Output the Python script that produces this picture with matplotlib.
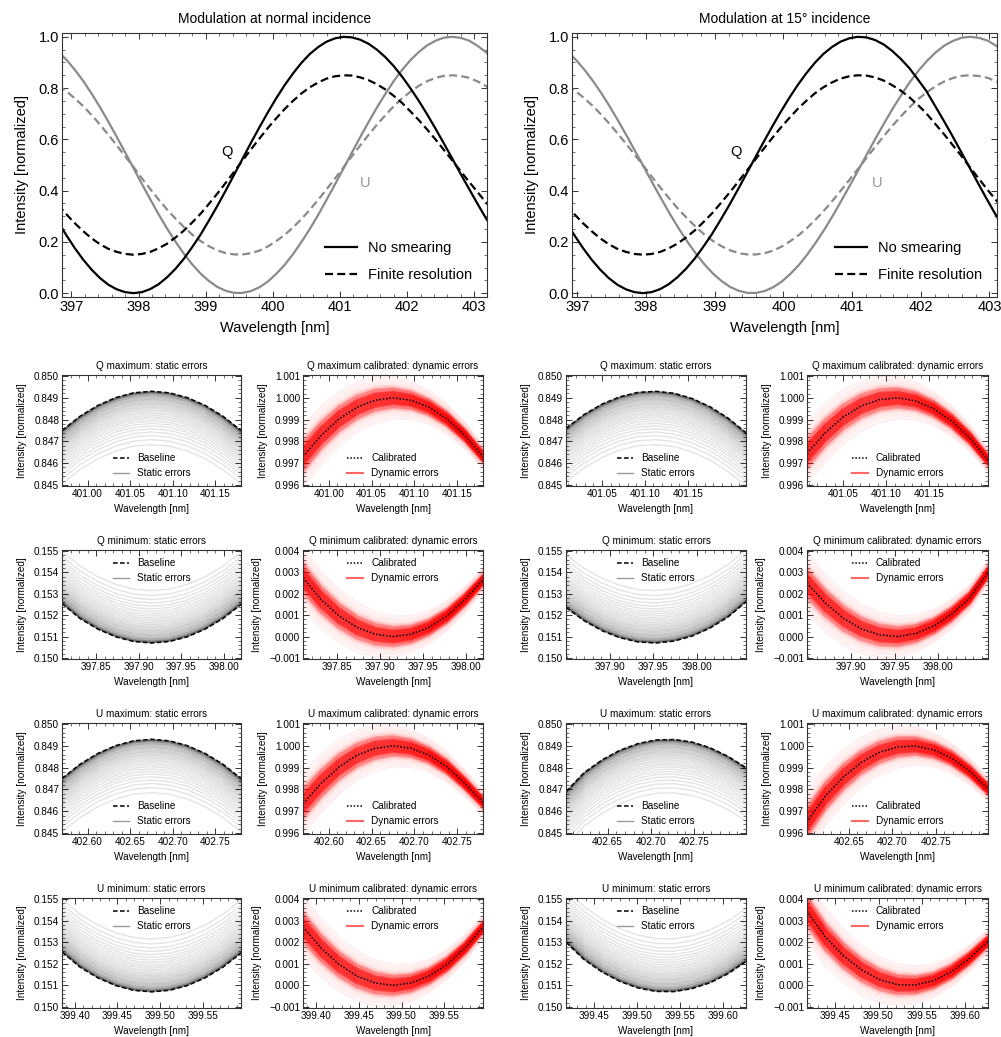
import numpy as np
import matplotlib
matplotlib.use("Agg")
import matplotlib.pyplot as plt
from matplotlib.lines import Line2D
from matplotlib.ticker import MultipleLocator, FixedLocator, FuncFormatter

plt.rcParams['font.family'] = ['Liberation Sans', 'DejaVu Sans']

W, H = 1001, 1037

# ---------------------------------------------------------------
# Full modulation curves, sampled every 0.125 nm
# ---------------------------------------------------------------
wl_normal = np.round(np.arange(396.80, 403.31, 0.125), 3)
wl15_q = np.round(np.arange(396.83, 403.34, 0.125), 3)
wl15_u = np.round(np.arange(396.85, 403.36, 0.125), 3)

q_ideal = [0.279, 0.226, 0.176, 0.131, 0.092, 0.059, 0.033, 0.015, 0.004, 0.000, 0.004,
           0.016, 0.035, 0.062, 0.095, 0.134, 0.180, 0.229, 0.284, 0.341, 0.401, 0.463,
           0.525, 0.587, 0.647, 0.705, 0.760, 0.811, 0.857, 0.898, 0.933, 0.960, 0.981,
           0.994, 1.000, 0.998, 0.989, 0.973, 0.950, 0.921, 0.886, 0.845, 0.799, 0.750,
           0.697, 0.641, 0.583, 0.524, 0.464, 0.406, 0.348, 0.292, 0.240]
q_smear = [0.345, 0.308, 0.273, 0.242, 0.214, 0.191, 0.173, 0.161, 0.153, 0.150, 0.153,
           0.161, 0.175, 0.193, 0.217, 0.244, 0.276, 0.310, 0.349, 0.389, 0.431, 0.474,
           0.518, 0.561, 0.603, 0.644, 0.682, 0.718, 0.750, 0.779, 0.803, 0.822, 0.837,
           0.846, 0.850, 0.849, 0.842, 0.831, 0.815, 0.795, 0.770, 0.742, 0.709, 0.675,
           0.638, 0.599, 0.558, 0.517, 0.475, 0.434, 0.394, 0.354, 0.318]
u_ideal = [0.943, 0.911, 0.872, 0.828, 0.779, 0.726, 0.669, 0.610, 0.549, 0.488, 0.426,
           0.366, 0.307, 0.252, 0.201, 0.154, 0.112, 0.076, 0.047, 0.024, 0.009, 0.001,
           0.001, 0.008, 0.023, 0.045, 0.075, 0.110, 0.152, 0.199, 0.250, 0.305, 0.364,
           0.424, 0.485, 0.547, 0.608, 0.667, 0.724, 0.777, 0.827, 0.871, 0.909, 0.941,
           0.967, 0.985, 0.997, 1.000, 0.996, 0.985, 0.965, 0.940, 0.906]
u_smear = [0.810, 0.788, 0.760, 0.730, 0.695, 0.658, 0.618, 0.577, 0.534, 0.492, 0.448,
           0.406, 0.365, 0.326, 0.291, 0.258, 0.228, 0.203, 0.183, 0.167, 0.156, 0.151,
           0.151, 0.156, 0.166, 0.182, 0.203, 0.227, 0.256, 0.289, 0.325, 0.364, 0.405,
           0.447, 0.490, 0.533, 0.576, 0.617, 0.657, 0.694, 0.729, 0.760, 0.786, 0.809,
           0.827, 0.840, 0.848, 0.850, 0.847, 0.840, 0.826, 0.808, 0.784]

# Q at 15 deg falls off faster past its maximum
q15_ideal = [0.279, 0.226, 0.176, 0.131, 0.092, 0.059, 0.033, 0.015, 0.004, 0.000, 0.004,
             0.016, 0.035, 0.062, 0.095, 0.134, 0.180, 0.229, 0.284, 0.341, 0.401, 0.463,
             0.525, 0.587, 0.647, 0.705, 0.760, 0.811, 0.857, 0.898, 0.933, 0.960, 0.981,
             0.994, 1.000, 0.998, 0.988, 0.971, 0.946, 0.915, 0.879, 0.835, 0.789, 0.732,
             0.675, 0.616, 0.555, 0.493, 0.431, 0.370, 0.311, 0.255, 0.203]
q15_smear = [0.345, 0.308, 0.273, 0.242, 0.214, 0.191, 0.173, 0.161, 0.153, 0.150, 0.153,
             0.161, 0.175, 0.193, 0.217, 0.244, 0.276, 0.310, 0.349, 0.389, 0.431, 0.474,
             0.518, 0.561, 0.603, 0.644, 0.682, 0.718, 0.750, 0.779, 0.803, 0.822, 0.837,
             0.846, 0.850, 0.849, 0.842, 0.830, 0.812, 0.791, 0.765, 0.735, 0.702, 0.662,
             0.623, 0.581, 0.539, 0.495, 0.452, 0.409, 0.368, 0.329, 0.292]

# ---------------------------------------------------------------
# Zoomed extrema, normal incidence
# ---------------------------------------------------------------
qmax_wl_0 = [400.970, 400.991, 401.012, 401.033, 401.054, 401.075, 401.096, 401.117, 401.138, 401.159, 401.180]
qmax_base_0 = [0.84750, 0.84815, 0.84865, 0.84901, 0.84923, 0.84930, 0.84923, 0.84901, 0.84865, 0.84815, 0.84750]
qmax_cal_0 = [0.99730, 0.99827, 0.99903, 0.99957, 0.99989, 1.00000, 0.99989, 0.99957, 0.99903, 0.99827, 0.99730]
qmax_ticks_0 = [401.00, 401.05, 401.10, 401.15]

qmin_wl_0 = [397.810, 397.831, 397.852, 397.873, 397.894, 397.915, 397.936, 397.957, 397.978, 397.999, 398.020]
qmin_base_0 = [0.15255, 0.15185, 0.15135, 0.15099, 0.15077, 0.15070, 0.15077, 0.15099, 0.15135, 0.15185, 0.15250]
qmin_cal_0 = [0.00275, 0.00173, 0.00097, 0.00043, 0.00011, 0.00000, 0.00011, 0.00043, 0.00097, 0.00173, 0.00265]
qmin_ticks_0 = [397.85, 397.90, 397.95, 398.00]

umax_wl_0 = [402.570, 402.591, 402.612, 402.633, 402.654, 402.675, 402.696, 402.717, 402.738, 402.759, 402.780]
umax_base_0 = [0.84750, 0.84815, 0.84865, 0.84901, 0.84923, 0.84930, 0.84923, 0.84901, 0.84865, 0.84815, 0.84750]
umax_cal_0 = [0.99735, 0.99827, 0.99903, 0.99957, 0.99989, 1.00000, 0.99989, 0.99957, 0.99903, 0.99827, 0.99740]
umax_ticks_0 = [402.60, 402.65, 402.70, 402.75]

umin_wl_0 = [399.385, 399.406, 399.427, 399.448, 399.469, 399.490, 399.511, 399.532, 399.553, 399.574, 399.595]
umin_base_0 = [0.15255, 0.15185, 0.15135, 0.15099, 0.15077, 0.15070, 0.15077, 0.15099, 0.15135, 0.15185, 0.15250]
umin_cal_0 = [0.00270, 0.00173, 0.00097, 0.00043, 0.00011, 0.00000, 0.00011, 0.00043, 0.00097, 0.00173, 0.00270]
umin_ticks_0 = [399.40, 399.45, 399.50, 399.55]

# ---------------------------------------------------------------
# Zoomed extrema, 15 deg incidence
# ---------------------------------------------------------------
qmax_wl_15 = [401.008, 401.029, 401.050, 401.071, 401.092, 401.113, 401.134, 401.155, 401.176, 401.197, 401.218]
qmax_base_15 = [0.84760, 0.84823, 0.84871, 0.84905, 0.84925, 0.84930, 0.84921, 0.84897, 0.84859, 0.84807, 0.84740]
qmax_cal_15 = [0.99745, 0.99839, 0.99912, 0.99963, 0.99992, 1.00000, 0.99986, 0.99950, 0.99893, 0.99815, 0.99714]
qmax_ticks_15 = [401.05, 401.10, 401.15]

qmin_wl_15 = [397.849, 397.870, 397.891, 397.911, 397.932, 397.953, 397.974, 397.995, 398.015, 398.036, 398.057]
qmin_base_15 = [0.15236, 0.15174, 0.15127, 0.15095, 0.15075, 0.15070, 0.15079, 0.15103, 0.15139, 0.15191, 0.15262]
qmin_cal_15 = [0.00250, 0.00157, 0.00085, 0.00037, 0.00008, 0.00000, 0.00014, 0.00050, 0.00104, 0.00181, 0.00300]
qmin_ticks_15 = [397.90, 397.95, 398.00]

umax_wl_15 = [402.602, 402.623, 402.644, 402.664, 402.685, 402.706, 402.727, 402.748, 402.768, 402.789, 402.810]
umax_base_15 = [0.84690, 0.84777, 0.84836, 0.84879, 0.84910, 0.84927, 0.84929, 0.84917, 0.84892, 0.84852, 0.84800]
umax_cal_15 = [0.99650, 0.99769, 0.99858, 0.99923, 0.99970, 0.99995, 0.99999, 0.99981, 0.99944, 0.99883, 0.99802]
umax_ticks_15 = [402.65, 402.70, 402.75]

umin_wl_15 = [399.417, 399.438, 399.459, 399.480, 399.501, 399.522, 399.543, 399.564, 399.585, 399.606, 399.627]
umin_base_15 = [0.15300, 0.15220, 0.15162, 0.15118, 0.15088, 0.15072, 0.15071, 0.15085, 0.15112, 0.15154, 0.15211]
umin_cal_15 = [0.00345, 0.00226, 0.00138, 0.00072, 0.00027, 0.00003, 0.00002, 0.00022, 0.00064, 0.00127, 0.00205]
umin_ticks_15 = [399.45, 399.50, 399.55, 399.60]

# error ensembles [1e-3 normalized units]
static_offsets = [0.0, 0.01, 0.015, 0.02, 0.03, 0.04, 0.05, 0.06, 0.07, 0.08, 0.09, 0.10,
                  0.12, 0.14, 0.16, 0.18, 0.20, 0.22, 0.25, 0.28, 0.31, 0.34, 0.37, 0.40,
                  0.44, 0.48, 0.52, 0.56, 0.60, 0.65, 0.70, 0.75, 0.81, 0.87, 0.94, 1.01,
                  1.09, 1.17, 1.26, 1.36, 1.47, 1.59, 1.72, 1.87, 2.03, 2.22, 2.45]
dynamic_offsets = [-0.95, -0.82, -0.72, -0.64, -0.57, -0.51, -0.46, -0.42, -0.38, -0.34,
                   -0.30, -0.27, -0.24, -0.21, -0.18, -0.15, -0.12, -0.09, -0.06, -0.03,
                   0.00, 0.03, 0.06, 0.09, 0.12, 0.15, 0.18, 0.21, 0.24, 0.27, 0.30, 0.34,
                   0.38, 0.42, 0.46, 0.51, 0.57, 0.64, 0.72, 0.82, 0.95]
# spread of the dynamic errors across each zoom window (left -> right)
dynamic_taper = [1.5, 1.4, 1.3, 1.2, 1.1, 1.0, 0.9, 0.8, 0.72, 0.63, 0.55]

GREY = '#8a8a8a'
FRAME = '#333333'


def px_axes(fig, x0, y0, x1, y1):
    return fig.add_axes([x0 / W, 1 - y1 / H, (x1 - x0) / W, (y1 - y0) / H])


def style_axes(ax, size):
    for s in ax.spines.values():
        s.set_color(FRAME)
        s.set_linewidth(0.8)
    ax.tick_params(which='both', direction='in', top=True, right=True,
                   color=FRAME, labelsize=size, pad=2)
    ax.tick_params(which='major', length=4, width=0.7)
    ax.tick_params(which='minor', length=2, width=0.5)


def minus(fmt):
    return FuncFormatter(lambda v, p: (fmt % v).replace('-', '\u2212'))


def red_alpha(off):
    # dense core, fading outer realisations
    off = abs(off)
    if off <= 0.30:
        return 0.45
    if off <= 0.46:
        return 0.28
    if off <= 0.6:
        return 0.14
    return 0.07


fig = plt.figure(figsize=(W / 100, H / 100), dpi=100)

# ---------------------------------------------------------------
# Overview panels
# ---------------------------------------------------------------
overview = [
    ("Modulation at normal incidence", (62, 33, 487, 297),
     wl_normal, q_ideal, q_smear, wl_normal, (396.86, 403.19)),
    ("Modulation at 15\u00b0 incidence", (572, 33, 997, 297),
     wl15_q, q15_ideal, q15_smear, wl15_u, (396.92, 403.11)),
]
for title, box, wq, qi, qs, wu, xlim in overview:
    ax = px_axes(fig, *box)
    ax.plot(wu, u_ideal, color=GREY, lw=1.6)
    ax.plot(wu, u_smear, color=GREY, lw=1.6, ls=(0, (3.6, 1.9)))
    ax.plot(wq, qi, color='k', lw=1.6, label='No smearing')
    ax.plot(wq, qs, color='k', lw=1.6, ls=(0, (3.6, 1.9)), label='Finite resolution')
    ax.set_xlim(*xlim)
    ax.set_ylim(-0.015, 1.015)
    ax.xaxis.set_major_locator(MultipleLocator(1))
    ax.xaxis.set_minor_locator(MultipleLocator(0.2))
    ax.yaxis.set_major_locator(MultipleLocator(0.2))
    ax.yaxis.set_minor_locator(MultipleLocator(0.05))
    ax.xaxis.set_major_formatter(FuncFormatter(lambda v, p: '%d' % round(v)))
    ax.yaxis.set_major_formatter(minus('%.1f'))
    style_axes(ax, 10.5)
    ax.set_title(title, fontsize=10, pad=7)
    ax.set_xlabel("Wavelength [nm]", fontsize=10.5, labelpad=5)
    ax.set_ylabel("Intensity [normalized]", fontsize=10.5, labelpad=7)
    ax.text(399.31, 0.55, "Q", fontsize=10.5, ha='center', va='center')
    ax.text(401.37, 0.43, "U", fontsize=10.5, ha='center', va='center', color='#999999')
    ax.legend(loc='lower right', frameon=False, fontsize=10.5, handlelength=2.2,
              labelspacing=0.9, borderaxespad=0.6)

# ---------------------------------------------------------------
# Zoomed panels
# ---------------------------------------------------------------
rows_y = [(375, 486), (550, 659), (723, 834), (898, 1008)]
sides = [
    ((62, 241), (303, 483), [
        ("Q maximum", qmax_wl_0, qmax_base_0, qmax_cal_0, qmax_ticks_0, 'max'),
        ("Q minimum", qmin_wl_0, qmin_base_0, qmin_cal_0, qmin_ticks_0, 'min'),
        ("U maximum", umax_wl_0, umax_base_0, umax_cal_0, umax_ticks_0, 'max'),
        ("U minimum", umin_wl_0, umin_base_0, umin_cal_0, umin_ticks_0, 'min'),
    ]),
    ((566, 746), (807, 988), [
        ("Q maximum", qmax_wl_15, qmax_base_15, qmax_cal_15, qmax_ticks_15, 'max'),
        ("Q minimum", qmin_wl_15, qmin_base_15, qmin_cal_15, qmin_ticks_15, 'min'),
        ("U maximum", umax_wl_15, umax_base_15, umax_cal_15, umax_ticks_15, 'max'),
        ("U minimum", umin_wl_15, umin_base_15, umin_cal_15, umin_ticks_15, 'min'),
    ]),
]

small = 7.2
for col_static, col_dyn, rows in sides:
    for (y0, y1), (name, wl, base, cal, ticks, kind) in zip(rows_y, rows):
        wl = np.array(wl)
        base = np.array(base)
        cal = np.array(cal)
        sign = -1 if kind == 'max' else 1
        loc = 'lower center' if kind == 'max' else 'upper center'

        # static errors
        ax = px_axes(fig, col_static[0], y0, col_static[1], y1)
        for off in static_offsets[::-1]:
            ax.plot(wl, base + sign * off * 1e-3, color='k', alpha=0.11, lw=1.0)
        ax.plot(wl, base, color='k', lw=1.1, ls=(0, (3, 1.6)))
        ylo = 0.845 if kind == 'max' else 0.150
        ax.set_ylim(ylo - 0.00005, ylo + 0.00505)
        ax.yaxis.set_major_formatter(minus('%.3f'))
        handles = [Line2D([], [], color='k', lw=1.1, ls=(0, (3, 1.6))),
                   Line2D([], [], color='#999999', lw=1.0)]
        ax.legend(handles, ["Baseline", "Static errors"], loc=loc, frameon=False,
                  fontsize=small, handlelength=1.6, labelspacing=0.5, borderaxespad=0.4)
        ax.set_title(name + ": static errors", fontsize=small, pad=4)
        axes_pair = [ax]

        # dynamic errors after calibration
        ax = px_axes(fig, col_dyn[0], y0, col_dyn[1], y1)
        taper = np.array(dynamic_taper)
        for off in dynamic_offsets:
            ax.plot(wl, cal + off * 1e-3 * taper, color='red', alpha=red_alpha(off), lw=1.4)
        ax.plot(wl, cal, color='k', lw=1.1, ls=(0, (1, 1.2)))
        ylo = 0.996 if kind == 'max' else -0.001
        ax.set_ylim(ylo - 0.00005, ylo + 0.00505)
        ax.yaxis.set_major_formatter(minus('%.3f'))
        handles = [Line2D([], [], color='k', lw=1.1, ls=(0, (1, 1.2))),
                   Line2D([], [], color='red', alpha=0.6, lw=1.5)]
        ax.legend(handles, ["Calibrated", "Dynamic errors"], loc=loc, frameon=False,
                  fontsize=small, handlelength=1.6, labelspacing=0.5, borderaxespad=0.4)
        ax.set_title(name + " calibrated: dynamic errors", fontsize=small, pad=4)
        axes_pair.append(ax)

        for a in axes_pair:
            a.set_xlim(wl[0], wl[-1])
            a.xaxis.set_major_locator(FixedLocator(ticks))
            a.xaxis.set_minor_locator(MultipleLocator(0.01))
            a.yaxis.set_major_locator(MultipleLocator(0.001))
            a.yaxis.set_minor_locator(MultipleLocator(0.0002))
            a.xaxis.set_major_formatter(FuncFormatter(lambda v, p: '%.2f' % v))
            style_axes(a, small)
            a.set_xlabel("Wavelength [nm]", fontsize=small, labelpad=4)
            a.set_ylabel("Intensity [normalized]", fontsize=small, labelpad=5)

fig.savefig("out.png", dpi=100)
